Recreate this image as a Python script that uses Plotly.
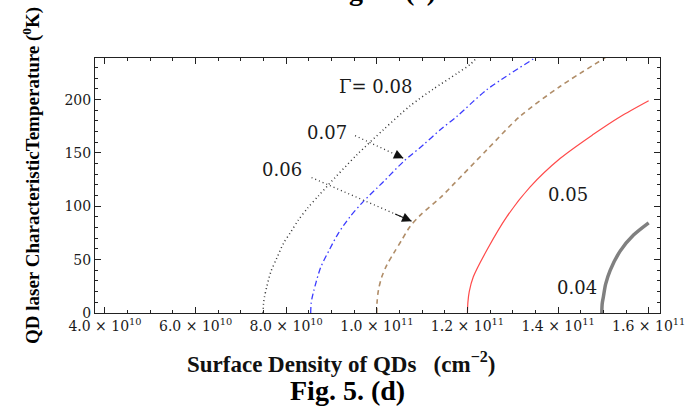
import plotly.graph_objects as go

# ---- data (x in cm^-2, y in K) ----
g08_x = [7.49e10, 7.50e10, 7.52e10, 7.57e10, 7.66e10, 7.79e10, 7.94e10, 8.09e10, 8.27e10, 8.47e10, 8.71e10, 8.93e10,
         9.56e10, 10.15e10, 10.73e10, 11.25e10, 11.77e10, 12.06e10, 12.20e10]
g08_y = [0, 9, 15, 24.4, 38.6, 51.2, 65.3, 75.2, 87.2, 98.2, 109.7, 120.1,
         148.3, 172, 194, 210, 224.5, 233, 239]

g07_x = [8.54e10, 8.55e10, 8.57e10, 8.61e10, 8.66e10, 8.76e10, 8.95e10, 9.15e10, 9.41e10, 9.70e10, 10.0e10, 10.15e10,
         10.59e10, 11.03e10, 11.40e10, 11.77e10, 12.43e10, 13.46e10, 13.50e10]
g07_y = [0, 9, 14, 21, 29, 42.7, 59.0, 74.7, 90.3, 104.4, 117.0, 123.2,
         142.0, 157.7, 171.8, 184.3, 209.4, 238.3, 239.5]

g06_x = [10.0e10, 10.005e10, 10.035e10, 10.11e10, 10.22e10, 10.37e10, 10.55e10, 10.73e10, 10.955e10, 11.40e10,
         11.69e10, 12.43e10, 13.16e10, 14.05e10, 15.04e10]
g06_y = [0, 10, 21.3, 33.9, 44.9, 55.9, 68.4, 80.9, 91.5, 108, 120.5, 153, 184.3, 212.5, 239.2]

g05_x = [12.0e10, 12.01e10, 12.04e10, 12.13e10, 12.43e10, 12.87e10, 13.38e10, 14.05e10, 14.78e10, 15.37e10, 16.0e10]
g05_y = [0, 10, 20, 33.9, 59.0, 90.3, 118, 145, 167.5, 184, 199]

g04_x = [14.965e10, 14.975e10, 15.0e10, 15.05e10, 15.15e10, 15.37e10, 15.665e10, 16.0e10]
g04_y = [0, 9, 15, 27, 40, 58, 73, 84.5]

x_tick_vals = [4e10, 6e10, 8e10, 10e10, 12e10, 14e10, 16e10]
x_tick_text = ["4.0 × 10<sup>10</sup>", "6.0 × 10<sup>10</sup>", "8.0 × 10<sup>10</sup>",
               "1.0 × 10<sup>11</sup>", "1.2 × 10<sup>11</sup>", "1.4 × 10<sup>11</sup>",
               "1.6 × 10<sup>11</sup>"]
y_tick_vals = [0, 50, 100, 150, 200]

# curve labels (text, x, y)
labels = [("Γ= 0.08", 9.98e10, 212.5), ("0.07", 8.89e10, 169.3), ("0.06", 7.90e10, 134.2),
          ("0.05", 14.23e10, 110.7), ("0.04", 14.41e10, 24.2)]
# pointer arrows: tail -> head
arrows = [((9.52e10, 166.2), (10.59e10, 145.0)), ((8.56e10, 126.9), (10.77e10, 86.0))]

fig = go.Figure()
curve_styles = [
    (g08_x, g08_y, dict(color="#333333", width=1.5, dash="1px,3px")),
    (g07_x, g07_y, dict(color="#3b3bff", width=1.3, dash="6px,3px,1.5px,3px")),
    (g06_x, g06_y, dict(color="#b08d68", width=1.6, dash="5px,4px")),
    (g05_x, g05_y, dict(color="#ff4a4a", width=1.2)),
    (g04_x, g04_y, dict(color="#808080", width=3.5)),
]
for xs, ys, ln in curve_styles:
    fig.add_trace(go.Scatter(x=xs, y=ys, mode="lines", line=dict(shape="spline", smoothing=0.8, **ln)))

for (tx, ty), (hx, hy) in arrows:
    fig.add_trace(go.Scatter(x=[tx, hx], y=[ty, hy], mode="lines",
                             line=dict(color="#333333", width=1.3, dash="1px,3px")))

for txt, lx, ly in labels:
    fig.add_annotation(x=lx, y=ly, text=txt, showarrow=False, xanchor="center", yanchor="middle",
                       font=dict(family="DejaVu Serif", size=18, color="#1a1a1a"))

# arrowheads
for (tx, ty), (hx, hy) in arrows:
    fig.add_annotation(x=hx, y=hy, ax=tx + (hx - tx) * 0.82, ay=ty + (hy - ty) * 0.82,
                       axref="x", ayref="y", xref="x", yref="y", text="",
                       showarrow=True, arrowhead=2, arrowsize=1.6, arrowwidth=1.2,
                       arrowcolor="#111111")

fig.update_layout(
    width=696, height=412,
    margin=dict(l=95, r=36, t=58, b=99),
    plot_bgcolor="white", paper_bgcolor="white",
    showlegend=False,
)
fig.update_xaxes(range=[3.78e10, 1.625e11], tickmode="array", tickvals=x_tick_vals, ticktext=x_tick_text,
                 ticks="inside", ticklen=6, tickcolor="#222", showline=True, linecolor="#222", linewidth=1,
                 mirror="allticks", showgrid=False, zeroline=False,
                 tickfont=dict(family="DejaVu Serif", size=14, color="#1a1a1a"),
                 minor=dict(tickmode="linear", tick0=4e10, dtick=5e9, ticks="inside", ticklen=3,
                            tickcolor="#222", showgrid=False))
fig.update_yaxes(range=[0, 239], tickmode="array", tickvals=y_tick_vals,
                 ticks="inside", ticklen=6, tickcolor="#222", showline=True, linecolor="#222", linewidth=1,
                 mirror="allticks", showgrid=False, zeroline=False,
                 tickfont=dict(family="DejaVu Serif", size=14, color="#1a1a1a"),
                 minor=dict(tickmode="linear", tick0=0, dtick=10, ticks="inside", ticklen=3,
                            tickcolor="#222", showgrid=False))

# axis titles and captions
fig.add_annotation(xref="paper", yref="paper", x=(31 - 95) / 565, y=(313 - 176) / 255, textangle=-90,
                   showarrow=False, xanchor="center", yanchor="middle",
                   text="<b>QD laser CharacteristicTemperature (<sup>0</sup>K)</b>",
                   font=dict(family="Liberation Serif", size=19, color="black"))
fig.add_annotation(xref="paper", yref="paper", x=(341 - 95) / 565, y=(313 - 362) / 255, showarrow=False,
                   xanchor="center", yanchor="middle",
                   text="<b>Surface Density of QDs   (cm<sup>−2</sup>)</b>",
                   font=dict(family="Liberation Serif", size=23, color="#111"))
fig.add_annotation(xref="paper", yref="paper", x=(347 - 95) / 565, y=(313 - 390) / 255, showarrow=False,
                   xanchor="center", yanchor="middle",
                   text="<b>Fig. 5. (d)</b>",
                   font=dict(family="Liberation Serif", size=28, color="black"))
fig.add_annotation(xref="paper", yref="paper", x=(380 - 95) / 565, y=(313 - (-10)) / 255, showarrow=False,
                   xanchor="center", yanchor="middle",
                   text="<b>Fig. 5. (c)</b>",
                   font=dict(family="Liberation Serif", size=28, color="black"))

fig.write_html("out.html")
